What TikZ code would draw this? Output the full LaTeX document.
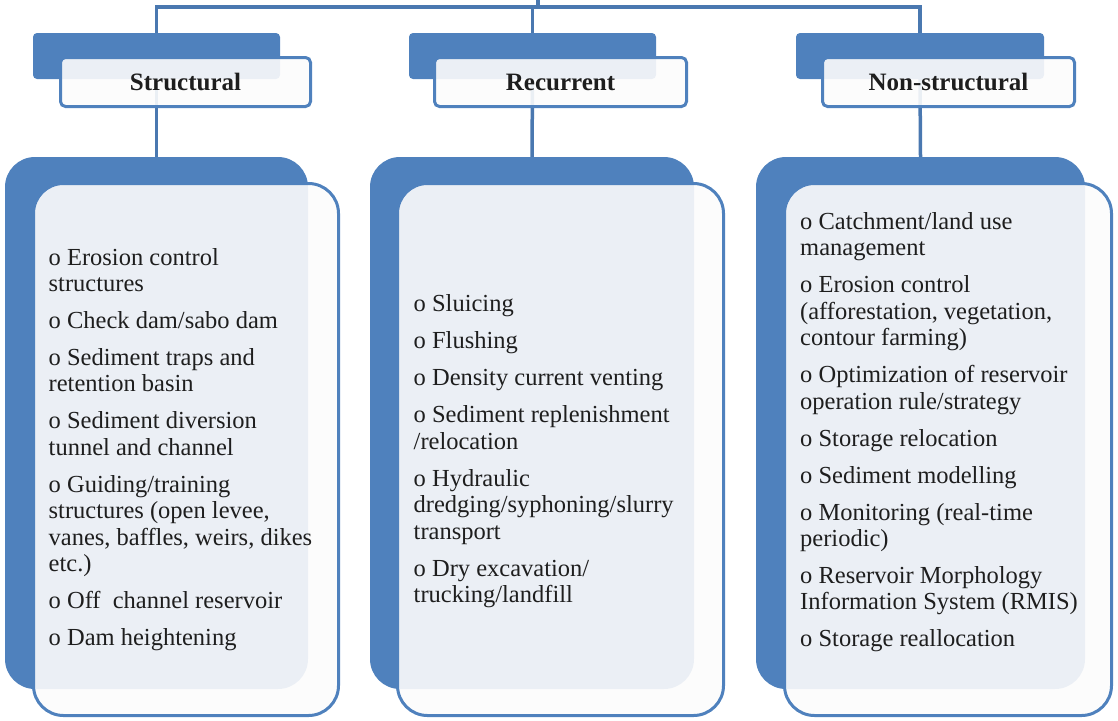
\documentclass[tikz,border=0pt]{standalone}
\usepackage{fontspec}
\setmainfont{Liberation Serif}
\definecolor{accent}{HTML}{4F81BD}
\definecolor{linkblue}{HTML}{4A78B0}
\definecolor{panel}{HTML}{FCFCFC}
\definecolor{ink}{HTML}{1E1E1E}
\pgfdeclarelayer{bg}
\pgfsetlayers{bg,main}
\newcommand{\itemgap}{\\[10.6pt]}
\begin{document}
\begin{tikzpicture}[x=1pt,y=-1pt,
  conn/.style={draw=linkblue,line width=3.5pt},
  headback/.style={fill=accent,draw=none,rounded corners=4pt,inner sep=0pt,outer sep=0pt,minimum height=46pt},
  headfront/.style={draw=accent,line width=3pt,fill=panel,fill opacity=0.9,text opacity=1,
    rounded corners=5pt,inner sep=0pt,outer sep=0pt,minimum height=49pt,
    font=\fontsize{25}{28}\selectfont\bfseries,text=ink},
  bigback/.style={fill=accent,draw=none,rounded corners=30pt,inner sep=0pt,outer sep=0pt,minimum height=532pt},
  bigfront/.style={draw=accent,line width=3pt,fill=panel,fill opacity=0.9,
    rounded corners=30pt,inner sep=0pt,outer sep=0pt,minimum height=532pt},
  itemtext/.style={anchor=north west,align=left,inner sep=0pt,text=ink,
    font=\fontsize{24.5}{26.4}\selectfont}]
\useasboundingbox (0,0) rectangle (1118,720);

% header tabs
\node[headback,minimum width=247pt] (hb1) at (156.5,56) {};
\node[headback,minimum width=247pt] (hb2) at (532.5,56) {};
\node[headback,minimum width=248pt] (hb3) at (920,56) {};

% large panels, back layer
\node[bigback,minimum width=303pt] (bb1) at (156.5,423) {};
\node[bigback,minimum width=324pt] (bb2) at (532,423) {};
\node[bigback,minimum width=329pt] (bb3) at (920.5,423) {};

% header labels
\node[headfront,minimum width=250pt] (hf1) at (185.5,82) {Structural};
\node[headfront,minimum width=252pt] (hf2) at (560.5,82) {Recurrent};
\node[headfront,minimum width=252pt] (hf3) at (948.5,82) {Non-structural};

% large panels, front layer
\node[bigfront,minimum width=305pt] (bf1) at (186,449.5) {};
\node[bigfront,minimum width=326pt] (bf2) at (560.5,449.5) {};
\node[bigfront,minimum width=327pt] (bf3) at (948,449.5) {};

% tree connectors
\coordinate (root) at (538,-2);
\begin{pgfonlayer}{bg}
  \draw[conn] (root) -- ++(0,9);
  \draw[conn] (hb1.north) -- ++(0,-26) -| (hb3.north);
  \draw[conn] (hb2.north) -- ++(0,-26);
  \draw[conn] (hb1.south) -- (bb1.north);
  \draw[conn] (hb2.south) -- (bb2.north);
  \draw[conn] (hb3.south) -- (bb3.north);
\end{pgfonlayer}

% item lists
\node[itemtext] (t1) at (48.5,246.5) {\strut o Erosion control\\structures\itemgap
o Check dam/sabo dam\itemgap
o Sediment traps and\\retention basin\itemgap
o Sediment diversion\\tunnel and channel\itemgap
o Guiding/training\\structures (open levee,\\vanes, baffles, weirs, dikes\\etc.)\itemgap
o Off\ \ channel reservoir\itemgap
o Dam heightening};

\node[itemtext] (t2) at (413.5,293.2) {\strut o Sluicing\itemgap
o Flushing\itemgap
o Density current venting\itemgap
o Sediment replenishment\\/relocation\itemgap
o Hydraulic\\dredging/syphoning/slurry\\transport\itemgap
o Dry excavation/\\trucking/landfill};

\node[itemtext] (t3) at (800,210.8) {\strut o Catchment/land use\\management\itemgap
o Erosion control\\(afforestation, vegetation,\\contour farming)\itemgap
o Optimization of reservoir\\operation rule/strategy\itemgap
o Storage relocation\itemgap
o Sediment modelling\itemgap
o Monitoring (real-time\\periodic)\itemgap
o Reservoir Morphology\\Information System (RMIS)\itemgap
o Storage reallocation};
\end{tikzpicture}
\end{document}
